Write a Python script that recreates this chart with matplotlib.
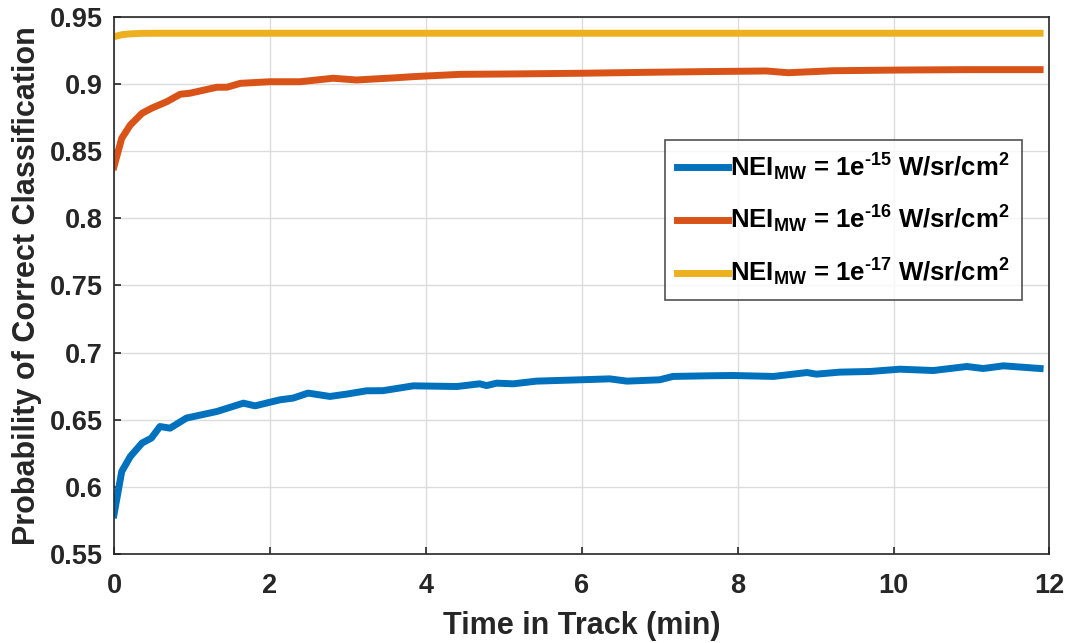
import matplotlib
matplotlib.use("Agg")
import matplotlib.pyplot as plt

# Data
t_blue = [0.0, 0.10, 0.21, 0.36, 0.48, 0.59, 0.72, 0.93, 1.32, 1.66, 1.81, 2.13, 2.30, 2.49,
          2.77, 2.98, 3.24, 3.45, 3.84, 4.40, 4.69, 4.78, 4.91, 5.12, 5.42, 5.98, 6.36, 6.58,
          7.00, 7.17, 7.65, 7.94, 8.46, 8.89, 9.01, 9.31, 9.70, 10.08, 10.51, 10.94, 11.15,
          11.41, 11.88]
v_blue = [0.5792, 0.6115, 0.6226, 0.6326, 0.6363, 0.6449, 0.6437, 0.6512, 0.6561, 0.6623,
          0.6603, 0.6648, 0.6661, 0.6698, 0.6673, 0.6690, 0.6715, 0.6716, 0.6752, 0.6747,
          0.6767, 0.6754, 0.6772, 0.6767, 0.6787, 0.6797, 0.6804, 0.6787, 0.6797, 0.6822,
          0.6827, 0.6829, 0.6822, 0.6851, 0.6839, 0.6854, 0.6859, 0.6876, 0.6866, 0.6896,
          0.6881, 0.6901, 0.6881]

t_orange = [0.0, 0.10, 0.21, 0.36, 0.48, 0.68, 0.85, 0.97, 1.32, 1.45, 1.62, 2.00, 2.39,
            2.81, 3.11, 3.63, 3.84, 4.44, 5.12, 5.98, 6.83, 7.52, 8.37, 8.65, 9.23, 10.08,
            10.94, 11.88]
v_orange = [0.8384, 0.8595, 0.8694, 0.8781, 0.8818, 0.8868, 0.8923, 0.8930, 0.8975, 0.8975,
            0.9004, 0.9016, 0.9016, 0.9042, 0.9029, 0.9046, 0.9054, 0.9071, 0.9074, 0.9079,
            0.9086, 0.9091, 0.9096, 0.9083, 0.9098, 0.9103, 0.9106, 0.9106]

t_yellow = [0.0, 0.10, 0.20, 0.35, 0.6, 2.0, 6.0, 11.88]
v_yellow = [0.9351, 0.9366, 0.9372, 0.9376, 0.9377, 0.9377, 0.9377, 0.9377]

labels = ['NEI$_{\\mathrm{MW}}$ = 1e$^{\\mathrm{\u2010}15}$ W/sr/cm$^{2}$',
          'NEI$_{\\mathrm{MW}}$ = 1e$^{\\mathrm{\u2010}16}$ W/sr/cm$^{2}$',
          'NEI$_{\\mathrm{MW}}$ = 1e$^{\\mathrm{\u2010}17}$ W/sr/cm$^{2}$']
colors = ['#0072BD', '#D95319', '#EDB120']

xticks = [0, 2, 4, 6, 8, 10, 12]
yticks = [0.55, 0.6, 0.65, 0.7, 0.75, 0.8, 0.85, 0.9, 0.95]
yticklabels = ['0.55', '0.6', '0.65', '0.7', '0.75', '0.8', '0.85', '0.9', '0.95']

plt.rcParams['font.family'] = ['Liberation Sans', 'DejaVu Sans']
plt.rcParams['font.weight'] = 'bold'
plt.rcParams['mathtext.fontset'] = 'custom'
plt.rcParams['mathtext.rm'] = 'Liberation Sans:bold'
plt.rcParams['mathtext.it'] = 'Liberation Sans:bold'
plt.rcParams['mathtext.bf'] = 'Liberation Sans:bold'

fig = plt.figure(figsize=(10.70, 6.43), dpi=100)
ax = fig.add_axes([0.1065, 0.1384, 0.9808 - 0.1065, 0.974 - 0.1384])

ax.plot(t_blue, v_blue, color=colors[0], lw=5, label=labels[0], solid_joinstyle='round')
ax.plot(t_orange, v_orange, color=colors[1], lw=5, label=labels[1], solid_joinstyle='round')
ax.plot(t_yellow, v_yellow, color=colors[2], lw=5, label=labels[2], solid_joinstyle='round')

ax.set_xlim(0, 12)
ax.set_ylim(0.55, 0.95)
ax.set_xticks(xticks)
ax.set_yticks(yticks)
ax.set_yticklabels(yticklabels)
ax.grid(True, color='#dcdcdc', lw=1)
ax.set_axisbelow(True)
for s in ax.spines.values():
    s.set_color('#262626')
    s.set_linewidth(1.2)
ax.tick_params(direction='in', length=5, width=1.2, colors='#262626', labelsize=19.5,
               labelcolor='#262626')
ax.tick_params(axis='x', pad=14)
ax.tick_params(axis='y', pad=8)
ax.set_xlabel('Time in Track (min)', fontsize=22, fontweight='bold', color='#262626',
              labelpad=8)
ax.set_ylabel('Probability of Correct Classification', fontsize=22, fontweight='bold',
              color='#262626', labelpad=6)

leg = ax.legend(loc='upper left', bbox_to_anchor=(0.589, 0.771), fontsize=18.5,
                frameon=True, fancybox=False, edgecolor='#262626', handlelength=2.0,
                handletextpad=0.1, borderpad=0.45, labelspacing=0.83, borderaxespad=0)
leg.get_frame().set_linewidth(1.2)

fig.savefig('out.png', dpi=100)
